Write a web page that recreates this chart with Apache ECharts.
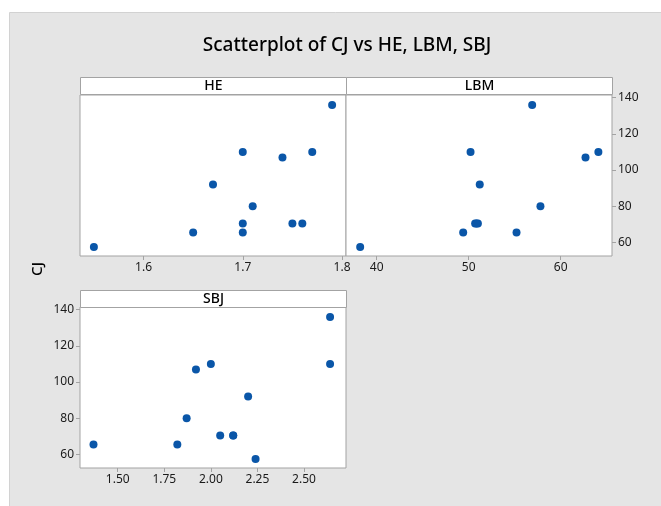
<!DOCTYPE html>
<html>
<head>
<meta charset="utf-8">
<script src="https://cdn.jsdelivr.net/npm/echarts@6/dist/echarts.min.js"></script>
<style>
  html, body { margin: 0; background: #fff; }
  #container { width: 661px; height: 506px; }
</style>
</head>
<body>
<div id="container"></div>
<script>
// one entry per observation
const cj = [136, 57.5, 92, 80, 107, 110, 110, 65.5, 65.5, 70.5, 70.5, 70.5];
const he = [1.79, 1.55, 1.67, 1.71, 1.74, 1.70, 1.77, 1.65, 1.70, 1.70, 1.75, 1.76];
const lbm = [56.9, 38.2, 51.2, 57.8, 62.7, 50.2, 64.1, 49.4, 55.2, 50.7, 51.0, 50.85];
const sbj = [2.64, 2.24, 2.20, 1.87, 1.92, 2.00, 2.64, 1.37, 1.82, 2.05, 2.12, 2.12];

const panelNames = ["HE", "LBM", "SBJ"];
const yTicks = [60, 80, 100, 120, 140];
const heTicks = [1.6, 1.7, 1.8];
const lbmTicks = [40, 50, 60];
const sbjTicks = [1.5, 1.75, 2.0, 2.25, 2.5];

const FONT = "Noto Sans";
const frame = "#a3a3a3";
const dotColor = "#0a56a8";

const dom = document.getElementById("container");
const myChart = echarts.init(dom, null, { renderer: "canvas" });

const pairs = (xs) => xs.map((x, i) => [x, cj[i]]);

const xAxisFor = (gridIndex, min, max, ticks, fmt) => ({
  type: "value",
  gridIndex,
  min,
  max,
  axisLine: { show: false },
  splitLine: { show: false },
  axisTick: { show: true, length: 4, customValues: ticks, lineStyle: { color: frame } },
  axisLabel: {
    customValues: ticks,
    formatter: fmt,
    color: "#1a1a1a",
    fontFamily: FONT,
    fontSize: 12,
    margin: 6,
  },
});

const yAxisFor = (gridIndex, position, show) => ({
  type: "value",
  gridIndex,
  position,
  min: 52.5,
  max: 141.5,
  axisLine: { show: false },
  splitLine: { show: false },
  axisTick: { show, length: 4, customValues: yTicks, lineStyle: { color: frame } },
  axisLabel: {
    show,
    customValues: yTicks,
    color: "#1a1a1a",
    fontFamily: FONT,
    fontSize: 12,
    margin: 6,
  },
});

const gridBase = {
  show: true,
  backgroundColor: "#ffffff",
  borderColor: frame,
  borderWidth: 1,
  width: 266,
  height: 161,
};

const header = (x, y, name) => ({
  type: "group",
  left: x,
  top: y,
  children: [
    {
      type: "rect",
      shape: { x: 0, y: 0, width: 266, height: 17 },
      style: { fill: "#ffffff", stroke: frame, lineWidth: 1 },
    },
    {
      type: "text",
      x: 133,
      y: 9,
      style: {
        text: name,
        fill: "#000",
        font: "500 14px '" + FONT + "'",
        textAlign: "center",
        textVerticalAlign: "middle",
      },
    },
  ],
});

const option = {
  backgroundColor: "#ffffff",
  animation: false,
  title: {
    text: "Scatterplot of CJ vs HE, LBM, SBJ",
    left: 342,
    top: 31,
    textAlign: "center",
    textStyle: { fontFamily: FONT, fontSize: 19, fontWeight: 500, color: "#000" },
  },
  graphic: [
    {
      type: "rect",
      z: -10,
      left: 9,
      top: 12,
      shape: { width: 660, height: 500 },
      style: { fill: "#e5e5e5", stroke: "#d2d2d2", lineWidth: 1 },
    },
    header(80, 77, panelNames[0]),
    header(346, 77, panelNames[1]),
    header(80, 290, panelNames[2]),
    {
      type: "text",
      left: 30,
      top: 262,
      rotation: Math.PI / 2,
      style: { text: "CJ", fill: "#000", font: "500 15px '" + FONT + "'" },
    },
  ],
  grid: [
    { ...gridBase, left: 80, top: 95 },
    { ...gridBase, left: 346, top: 95 },
    { ...gridBase, left: 80, top: 307 },
  ],
  xAxis: [
    xAxisFor(0, 1.536, 1.804, heTicks, (v) => v.toFixed(1)),
    xAxisFor(1, 36.66, 65.58, lbmTicks, (v) => String(v)),
    xAxisFor(2, 1.2976, 2.7254, sbjTicks, (v) => v.toFixed(2)),
  ],
  yAxis: [
    yAxisFor(0, "left", false),
    yAxisFor(1, "right", true),
    yAxisFor(2, "left", true),
  ],
  series: [he, lbm, sbj].map((xs, i) => ({
    name: panelNames[i],
    type: "scatter",
    xAxisIndex: i,
    yAxisIndex: i,
    symbolSize: 8,
    itemStyle: { color: dotColor, opacity: 1 },
    data: pairs(xs),
  })),
};

myChart.setOption(option);
</script>
</body>
</html>
